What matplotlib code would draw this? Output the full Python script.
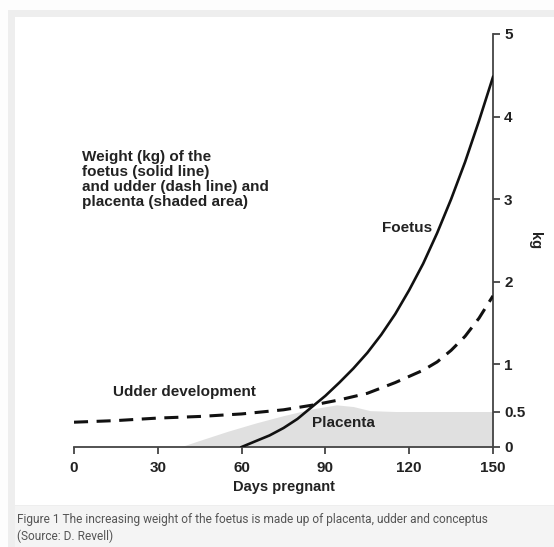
import numpy as np
import matplotlib
matplotlib.use("Agg")
import matplotlib.pyplot as plt
from matplotlib.patches import Rectangle

# ---- data (weights in kg as labelled on the axis, days pregnant) ----
foetus_days = [60, 65, 70, 75, 80, 85, 90, 95, 100, 105, 110, 115, 120, 125, 130, 135, 140, 145, 150]
foetus_kg = [0, 0.083, 0.165, 0.271, 0.401, 0.549, 0.670, 0.809, 0.957, 1.14, 1.36, 1.61, 1.9, 2.22,
             2.59, 3.0, 3.45, 3.95, 4.48]

udder_days = [0, 15, 30, 45, 60, 75, 86, 95, 105, 115, 125, 130, 135, 140, 145, 150]
udder_kg = [0.354, 0.377, 0.413, 0.436, 0.472, 0.523, 0.575, 0.627, 0.696, 0.809, 0.939, 1.03, 1.17,
            1.34, 1.56, 1.83]

placenta_days = [38, 45, 55, 65, 75, 85, 94, 100, 106, 115, 150]
placenta_kg = [0, 0.094, 0.224, 0.342, 0.448, 0.531, 0.575, 0.557, 0.514, 0.505, 0.505]

x_ticks = [0, 30, 60, 90, 120, 150]
y_ticks = [0, 0.5, 1, 2, 3, 4, 5]
y_tick_labels = ["0", "0.5", "1", "2", "3", "4", "5"]

# the original axis is not linear below 1 kg (0.5 sits lower than halfway)
_src = [0, 0.5, 1, 5]
_dst = [0, 0.424, 1, 5]


def fwd_s(v):
    v = np.asarray(v, dtype=float)
    out = np.interp(v, _src, _dst)
    out = np.where(v > 5, v, out)
    out = np.where(v < 0, v * 0.848, out)
    return out


def inv_s(v):
    v = np.asarray(v, dtype=float)
    out = np.interp(v, _dst, _src)
    out = np.where(v > 5, v, out)
    out = np.where(v < 0, v / 0.848, out)
    return out


W, H = 554, 547
fig = plt.figure(figsize=(W / 100, H / 100), dpi=100)
fig.patch.set_facecolor("#fdfdfd")

# page frame
fig.patches.append(Rectangle((8 / W, 0), 1, 1 - 10 / H, transform=fig.transFigure,
                             facecolor="#eeeeee", edgecolor="none", zorder=-10))
fig.patches.append(Rectangle((15 / W, 1 - 505 / H), 1, (505 - 17) / H, transform=fig.transFigure,
                             facecolor="white", edgecolor="none", zorder=-9))
fig.patches.append(Rectangle((15 / W, 0), 1, 1 - 506 / H, transform=fig.transFigure,
                             facecolor="#f4f4f4", edgecolor="none", zorder=-9))

ax = fig.add_axes([74 / W, 1 - 447 / H, (493 - 74) / W, (447 - 34) / H])
ax.set_facecolor("none")
ax.set_yscale("function", functions=(fwd_s, inv_s))
ax.set_xlim(0, 150)
ax.set_ylim(0, 5)

ax.fill_between(placenta_days, 0, placenta_kg, color="#e0e0e0", lw=0, zorder=1)
ax.plot(udder_days, udder_kg, color="#111111", lw=2.2, dashes=(4.6, 2.8), zorder=3)
ax.plot(foetus_days, foetus_kg, color="#111111", lw=1.9, zorder=4)

for s in ["left", "top"]:
    ax.spines[s].set_visible(False)
for s in ["right", "bottom"]:
    ax.spines[s].set_color("#444444")
    ax.spines[s].set_linewidth(1.3)

ax.yaxis.tick_right()
ax.set_xticks(x_ticks)
ax.set_xticklabels([str(t) for t in x_ticks])
ax.set_yticks(y_ticks)
ax.set_yticklabels(y_tick_labels)
ax.minorticks_off()
ax.tick_params(axis="both", direction="out", length=5, width=1.3, color="#444444",
               labelsize=11, labelcolor="#222222")
ax.tick_params(axis="y", pad=3)
ax.tick_params(axis="x", pad=5)
for lab in ax.get_xticklabels() + ax.get_yticklabels():
    lab.set_fontfamily("Liberation Sans")
    lab.set_fontweight("bold")

ax.set_xlabel("Days pregnant", fontsize=10.5, fontweight="bold", family="Liberation Sans",
              color="#222222", labelpad=4)
ax.yaxis.set_label_position("right")
ax.set_ylabel("kg", fontsize=10.5, fontweight="bold", family="Liberation Sans",
              color="#222222", rotation=270, labelpad=12)

tkw = dict(family="Liberation Sans", fontweight="bold", color="#222222")
ax.text(2.9, 3.6, "Weight (kg) of the\nfoetus (solid line)\nand udder (dash line) and\nplacenta (shaded area)",
        fontsize=11, ha="left", va="top", linespacing=1.1, **tkw)
ax.text(119.2, 2.65, "Foetus", fontsize=11, ha="center", va="center", **tkw)
ax.text(14.0, 0.71, "Udder development", fontsize=11, ha="left", va="center", **tkw)
ax.text(96.3, 0.343, "Placenta", fontsize=11, ha="center", va="center", **tkw)

fig.text(17 / W, 1 - 519 / H, "Figure 1 The increasing weight of the foetus is made up of placenta, udder and conceptus",
         fontsize=8.55, family="Roboto", color="#555555", ha="left", va="center")
fig.text(17 / W, 1 - 536.5 / H, "(Source: D. Revell)",
         fontsize=8.55, family="Roboto", color="#555555", ha="left", va="center")

fig.savefig("out.png", dpi=100, facecolor=fig.get_facecolor())
